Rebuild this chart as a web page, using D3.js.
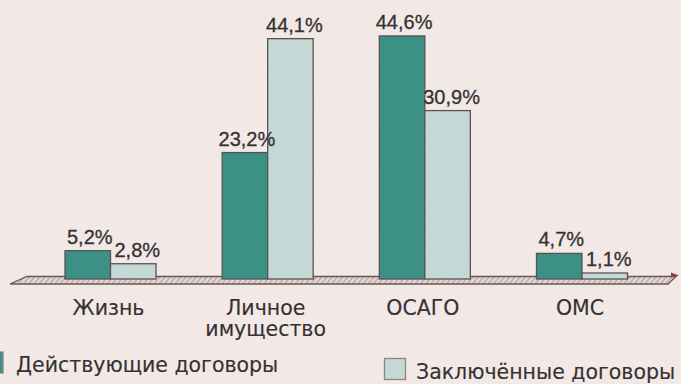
<!DOCTYPE html>
<html>
<head>
<meta charset="utf-8">
<script src="https://cdn.jsdelivr.net/npm/d3@7"></script>
<style>
  html, body { margin: 0; padding: 0; background: #f2e9e7; }
  svg { display: block; }
  text { font-family: "Liberation Sans", Arial, sans-serif; fill: #363131; stroke: #363131; stroke-width: 0.3px; }
  .wide text { font-family: "DejaVu Sans", sans-serif; stroke-width: 0.15px; }
</style>
</head>
<body>
<svg id="chart" width="681" height="384"></svg>
<script>
// Insurance types and the share of each in active vs. newly signed contracts, %
const categories = ["Жизнь", "Личное\nимущество", "ОСАГО", "ОМС"];
const activeShare = [5.2, 23.2, 44.6, 4.7];     // Действующие договоры
const concludedShare = [2.8, 44.1, 30.9, 1.1];  // Заключённые договоры
const seriesNames = ["Действующие договоры", "Заключённые договоры"];

const fmt = v => d3.format(".1f")(v).replace(".", ",") + "%";

const svg = d3.select("#chart");

const defs = svg.append("defs");
// fine diagonal hatching for the light bars
const hatchLight = defs.append("pattern")
  .attr("id", "hatchLight").attr("patternUnits", "userSpaceOnUse")
  .attr("width", 3).attr("height", 3).attr("patternTransform", "rotate(45)");
hatchLight.append("rect").attr("width", 3).attr("height", 3).attr("fill", "#c8dcd8");
hatchLight.append("line").attr("x1", 0).attr("y1", 0).attr("x2", 0).attr("y2", 3)
  .attr("stroke", "#b3cbc7").attr("stroke-width", 1);
// slight texture for the dark bars
const hatchDark = defs.append("pattern")
  .attr("id", "hatchDark").attr("patternUnits", "userSpaceOnUse")
  .attr("width", 3).attr("height", 3).attr("patternTransform", "rotate(45)");
hatchDark.append("rect").attr("width", 3).attr("height", 3).attr("fill", "#3d9187");
hatchDark.append("line").attr("x1", 0).attr("y1", 0).attr("x2", 0).attr("y2", 3)
  .attr("stroke", "#378a80").attr("stroke-width", 1);
// hatching for the floor
const hatchFloor = defs.append("pattern")
  .attr("id", "hatchFloor").attr("patternUnits", "userSpaceOnUse")
  .attr("width", 4).attr("height", 4).attr("patternTransform", "rotate(40)");
hatchFloor.append("rect").attr("width", 4).attr("height", 4).attr("fill", "#e2d5d2");
hatchFloor.append("line").attr("x1", 0).attr("y1", 0).attr("x2", 0).attr("y2", 4)
  .attr("stroke", "#a28c87").attr("stroke-width", 1.5);

// scales
const x = d3.scalePoint().domain(categories).range([110.5, 582]);
const barW = 45.5;
const y = d3.scaleLinear().domain([0, 45]).range([279, 33.75]);

// floor (slanted platform the bars stand on)
const floorTop = 276.5, floorBottom = 284;
svg.append("path")
  .attr("d", d3.line()([[10, floorBottom], [27, floorTop], [676, floorTop], [668, floorBottom]]) + "Z")
  .attr("fill", "url(#hatchFloor)")
  .attr("stroke", "#665755").attr("stroke-width", 1.3);
// arrow tip at the right end
svg.append("path")
  .attr("d", "M671,272.5 L679,275.5 L671,277.5 Z")
  .attr("fill", "#9a3b36");

const outline = "#5a5252";

// bars
const bars = svg.append("g");
categories.forEach((c, i) => {
  const cx = x(c);
  bars.append("rect")
    .attr("x", cx - barW).attr("y", y(activeShare[i]))
    .attr("width", barW).attr("height", y(0) - y(activeShare[i]))
    .attr("fill", "url(#hatchDark)").attr("stroke", outline).attr("stroke-width", 1.3);
  bars.append("rect")
    .attr("x", cx).attr("y", y(concludedShare[i]))
    .attr("width", barW).attr("height", y(0) - y(concludedShare[i]))
    .attr("fill", "url(#hatchLight)").attr("stroke", outline).attr("stroke-width", 1.3);
});

// value labels
const labels = svg.append("g").attr("font-size", 20).attr("text-anchor", "middle");
categories.forEach((c, i) => {
  const cx = x(c);
  labels.append("text")
    .attr("x", cx - barW / 2 + 2).attr("y", y(activeShare[i]) - 7)
    .text(fmt(activeShare[i]));
  labels.append("text")
    .attr("x", cx + barW / 2 + 4).attr("y", y(concludedShare[i]) - 7)
    .text(fmt(concludedShare[i]));
});

// category labels
const catG = svg.append("g").attr("class", "wide").attr("font-size", 20.5).attr("text-anchor", "middle");
categories.forEach(c => {
  const t = catG.append("text").attr("x", x(c) - 2).attr("y", 315);
  c.split("\n").forEach((line, k) => {
    t.append("tspan").attr("x", x(c) - 2).attr("dy", k === 0 ? 0 : 21).text(line);
  });
});

// legend
const legend = svg.append("g").attr("class", "wide").attr("font-size", 20.5);
legend.append("rect").attr("x", -18).attr("y", 352).attr("width", 21).attr("height", 21)
  .attr("fill", "url(#hatchDark)").attr("stroke", "#8a8585").attr("stroke-width", 1.3);
legend.append("text").attr("x", 16).attr("y", 372).text(seriesNames[0]);
legend.append("rect").attr("x", 384.5).attr("y", 358.5).attr("width", 21).attr("height", 21)
  .attr("fill", "url(#hatchLight)").attr("stroke", "#8a8585").attr("stroke-width", 1.3);
legend.append("text").attr("x", 416).attr("y", 379).text(seriesNames[1]);
</script>
</body>
</html>
